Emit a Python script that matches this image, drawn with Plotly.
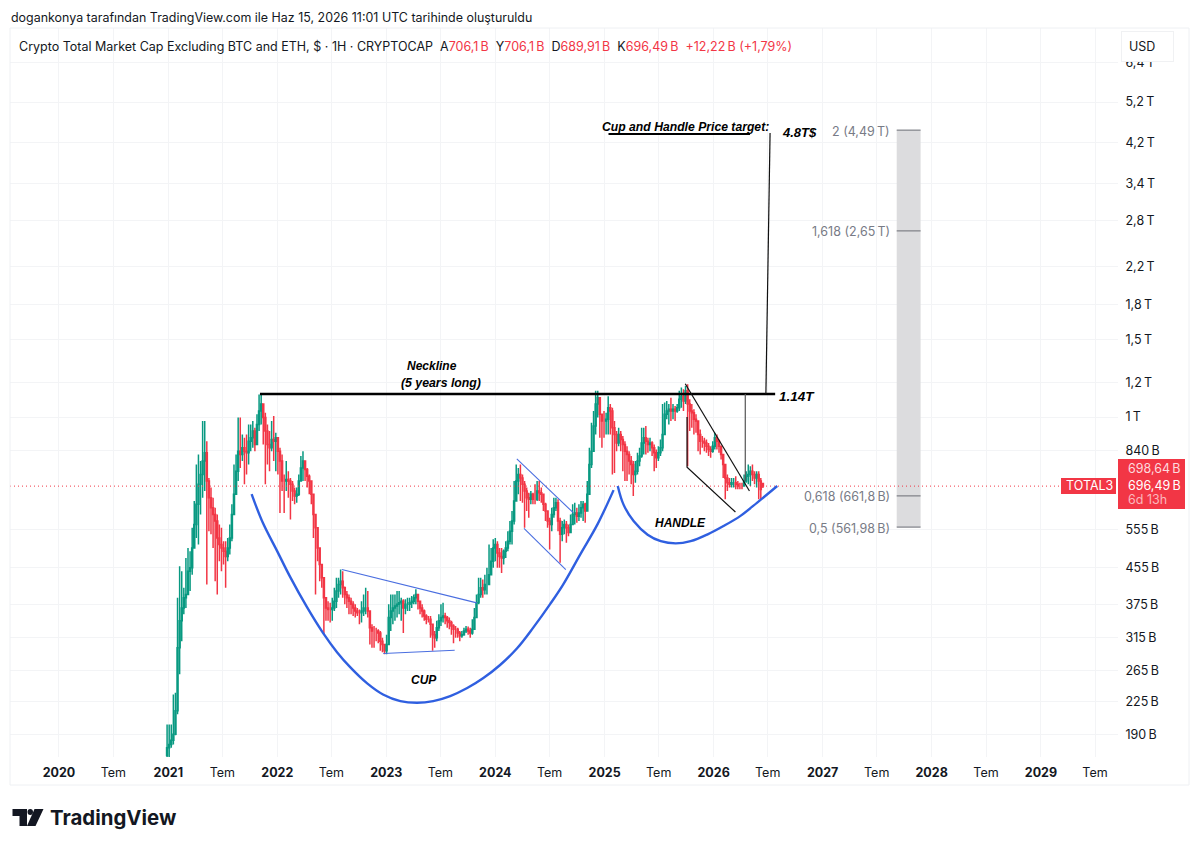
import numpy as np
import pandas as pd
import plotly.graph_objects as go

# weekly TOTAL3 candles, in billions of USD
closes = [177,180,184,190,215,299,344,368,388,395,446,454,504,570,633,703,740,794,829,715,
          655,622,600,580,531,513,504,495,482,504,531,600,667,753,836,822,851,836,829,881,
          897,929,866,962,1032,1070,997,929,866,851,889,881,897,836,794,715,715,721,715,703,
          679,661,667,715,766,794,760,733,715,667,600,560,504,462,431,388,368,365,365,368,
          381,402,416,423,409,395,388,381,375,368,362,359,359,362,368,368,362,332,326,326,
          326,323,309,304,294,304,350,362,368,372,375,378,381,368,375,375,378,381,388,395,
          381,368,362,353,347,347,338,320,315,332,344,350,353,350,344,341,335,329,329,323,
          318,320,326,329,326,323,329,350,378,395,409,405,416,416,438,470,504,513,491,482,
          478,495,504,522,550,580,644,715,740,727,703,679,655,650,667,650,650,679,673,667,
          633,611,580,570,600,622,638,580,541,560,570,560,546,570,600,605,595,605,622,633,
          611,667,780,836,954,1070,1106,1014,980,980,989,1050,1032,945,913,873,913,889,866,836,
          822,794,780,740,753,794,815,873,897,881,866,873,851,829,808,829,851,913,1014,1032,
          1041,1032,1041,1032,1050,1097,1115,1088,1148,1070,1032,1023,989,980,913,881,881,873,858,844,
          836,858,897,881,858,822,780,727,709,703,709,709,703,697,697,697,715,733,740,753,
          740,727,740,715,684,696.49]
highs = [200,200,200,234,236,388,458,446,409,478,504,495,560,644,780,822,794,980,980,881,
         727,691,655,622,600,570,560,522,522,531,570,633,780,822,997,997,913,897,913,962,
         962,980,945,1014,1125,1125,1023,1023,962,929,980,1005,921,897,851,822,740,794,753,727,
         715,691,691,740,815,836,773,766,740,703,667,600,560,504,462,431,388,381,378,388,
         409,431,431,450,446,412,402,395,388,381,375,368,365,381,395,409,402,362,338,335,
         332,329,326,315,304,320,375,395,395,395,402,402,388,385,385,388,388,392,395,406,
         395,381,375,365,356,353,353,338,326,344,356,375,378,359,353,350,344,338,335,332,
         326,326,332,335,334,332,347,368,395,431,431,427,438,454,513,504,527,531,522,504,
         504,500,522,550,580,611,715,780,766,780,740,715,691,673,679,673,703,715,715,691,
         667,638,611,590,622,655,655,650,590,580,585,580,570,600,633,638,622,633,644,644,
         638,715,851,971,1032,1148,1148,1088,1014,1032,1023,1115,1070,1050,980,929,945,929,905,881,
         858,836,815,794,794,829,851,945,945,954,897,897,881,866,844,858,889,1070,1079,1088,
         1070,1106,1070,1060,1070,1148,1167,1157,1176,1187,1097,1070,1041,1014,980,937,905,897,889,873,
         858,881,921,913,889,858,822,780,740,727,727,727,733,715,709,709,740,753,780,773,
         780,753,753,753,727,706.1]
lows = [165,165,177,180,189,211,260,309,356,368,395,402,438,513,531,513,600,655,679,416,
        550,541,504,423,395,470,446,462,409,470,487,522,611,679,715,766,794,703,740,780,
        836,851,836,866,929,962,866,703,780,753,836,794,753,740,605,679,605,679,655,585,
        644,633,638,661,715,715,715,691,667,633,531,395,470,423,409,320,344,344,341,344,
        362,368,388,395,388,375,368,356,356,353,350,353,338,341,353,356,350,304,299,299,
        309,306,294,292,289,289,320,326,338,344,350,356,344,323,356,362,362,368,375,375,
        365,356,350,344,338,341,315,294,299,309,326,335,341,338,332,329,320,306,315,315,
        309,315,318,323,320,315,320,329,350,375,388,388,395,395,416,438,454,470,454,454,
        442,462,478,495,513,513,570,644,667,644,638,560,611,590,633,633,633,644,644,638,
        611,580,560,500,550,590,611,550,466,522,541,518,536,550,570,570,575,580,590,580,
        575,611,703,766,836,913,997,897,851,897,913,913,913,740,746,836,858,836,753,715,
        715,740,703,661,709,740,773,808,822,822,829,836,815,753,766,794,815,836,929,989,
        962,980,989,980,1023,1032,1050,1032,1070,773,929,945,913,921,836,822,851,836,829,815,
        808,829,844,844,829,801,727,650,679,691,691,691,685,685,685,685,697,709,703,697,
        715,703,691,650,650,689.91]

# hand-drawn lines on the chart: dates and values in billions
cup_dates = ["2021-10-07","2021-11-14","2022-01-01","2022-02-13","2022-04-10","2022-06-03","2022-07-20",
             "2022-09-02","2022-10-29","2022-12-21","2023-02-17","2023-04-14","2023-06-07","2023-08-03",
             "2023-09-29","2023-11-22","2024-01-17","2024-03-14","2024-05-07","2024-07-03","2024-08-15",
             "2024-10-12","2024-12-08","2025-01-31"]
cup_values = [668,574,495,433,370,323,292,270,248,234,226,224,226,232,242,255,273,298,332,376,416,488,570,682]
handle_dates = ["2025-02-14","2025-03-05","2025-04-08","2025-05-25","2025-07-08","2025-08-27","2025-10-16",
                "2025-12-12","2026-02-03","2026-04-01","2026-05-27","2026-08-02"]
handle_values = [697,633,580,540,522,516,522,541,565,596,639,697]

black_lines = [
    (["2021-11-04","2026-07-26"], [1128,1128], 2.4, "#000000"),    # neckline
    (["2025-01-14","2026-05-03"], [4400,4400], 2.2, "#000000"),
    (["2026-06-25","2026-07-09"], [1128,4425], 1.2, "#111111"),
    (["2026-04-17","2026-04-17"], [1128,715], 1.2, "#555555"),
    (["2025-09-28","2026-05-01"], [1190,679], 1.2, "#111111"),
    (["2025-10-04","2025-10-04","2026-03-15"], [1000,769,608], 1.2, "#111111"),
]
blue_lines = [
    (["2022-08-05","2023-10-31"], [450,378]),
    (["2022-12-22","2023-08-18"], [290,295]),
    (["2024-03-13","2024-09-18"], [803,606]),
    (["2024-04-06","2024-08-24"], [558,450]),
]

price_ticks = [190,225,265,315,375,455,555,840,1000,1200,1500,1800,2200,2800,3400,4200,5200,6400]
price_labels = ["190\u2009B","225\u2009B","265\u2009B","315\u2009B","375\u2009B","455\u2009B","555\u2009B","840\u2009B",
                "1\u2009T","1,2\u2009T","1,5\u2009T","1,8\u2009T","2,2\u2009T","2,8\u2009T","3,4\u2009T","4,2\u2009T","5,2\u2009T","6,4\u2009T"]
date_ticks = []
date_labels = []
for yr in range(2020, 2030):
    date_ticks += [f"{yr}-01-01", f"{yr}-07-01"]
    date_labels += [f"<b>{yr}</b>", "Tem"]

fib_levels = [4490, 2650, 661.8, 561.98]
fib_labels = ["2 (4,49\u2009T)", "1,618 (2,65\u2009T)", "0,618 (661,8\u2009B)", "0,5 (561,98\u2009B)"]
fib_start, fib_end, fib_text_x = "2027-09-06", "2027-11-25", "2027-08-20"

last_close = closes[-1]
x_range = ["2019-07-21", "2029-09-16"]
RED = "#f23645"
GREEN = "#089981"
BLUE = "#2f5fe0"
THIN_BLUE = "#4a6ee0"
FONT = "Inter"

dates = pd.date_range("2020-12-28", periods=len(closes), freq="W-MON")
opens = [170] + closes[:-1]
opens[-1] = 706.1

fig = go.Figure()
fig.add_trace(go.Candlestick(x=dates, open=opens, high=highs, low=lows, close=closes,
                             increasing=dict(line=dict(color=GREEN, width=1.5), fillcolor=GREEN),
                             decreasing=dict(line=dict(color=RED, width=1.5), fillcolor=RED),
                             whiskerwidth=0, hoverinfo="skip"))

# fib box
fig.add_trace(go.Scatter(x=[fib_start, fib_end, fib_end, fib_start, fib_start],
                         y=[fib_levels[3], fib_levels[3], fib_levels[0], fib_levels[0], fib_levels[3]],
                         mode="lines", fill="toself", fillcolor="#dcdcde", line=dict(width=0)))
for lv in fib_levels:
    fig.add_trace(go.Scatter(x=[fib_start, fib_end], y=[lv, lv], mode="lines", line=dict(color="#7d7f86", width=1.2)))

fig.add_trace(go.Scatter(x=x_range, y=[last_close, last_close], mode="lines",
                         line=dict(color=RED, width=1, dash="1px 3px")))
for xs, ys, w, col in black_lines:
    fig.add_trace(go.Scatter(x=xs, y=ys, mode="lines", line=dict(color=col, width=w)))
for xs, ys in blue_lines:
    fig.add_trace(go.Scatter(x=xs, y=ys, mode="lines", line=dict(color=THIN_BLUE, width=1.1)))
for xs, ys in [(cup_dates, cup_values), (handle_dates, handle_values)]:
    fig.add_trace(go.Scatter(x=xs, y=ys, mode="lines", line=dict(color=BLUE, width=2.4, shape="spline", smoothing=1)))

PLOT_L, PLOT_R, PLOT_T, PLOT_B = 10, 1118, 28, 757


def px(x):
    return (x - PLOT_L) / (PLOT_R - PLOT_L)


def py(y):
    return (PLOT_B - y) / (PLOT_B - PLOT_T)


def note(x, y, text, size=12, color="#131722", anchor="left", **kw):
    fig.add_annotation(x=px(x), y=py(y), xref="paper", yref="paper", text=text, showarrow=False,
                       xanchor=anchor, yanchor="middle", font=dict(family=FONT, size=size, color=color), **kw)


def chart_note(date, value, text, size=11, color="#000000", anchor="center"):
    fig.add_annotation(x=date, y=np.log10(value), text=text, showarrow=False, xanchor=anchor, yanchor="middle",
                       font=dict(family="Liberation Sans", size=size, color=color))


chart_note("2023-06-04", 1306, "<b><i>Neckline</i></b>", size=12)
chart_note("2023-07-03", 1195, "<b><i>(5 years long)</i></b>", size=12.3)
chart_note("2026-10-08", 1116, "<b><i>1.14T</i></b>", size=13.5)
chart_note("2025-09-28", 4564, "<b><i>Cup and Handle Price target:</i></b>", size=12.2)
chart_note("2026-10-15", 4446, "<b><i>4.8T$</i></b>", size=13)
chart_note("2023-05-07", 252, "<b><i>CUP</i></b>", size=12)
chart_note("2025-09-11", 574, "<b><i>HANDLE</i></b>", size=12)
for lv, lab in zip(fib_levels, fib_labels):
    fig.add_annotation(x=fib_text_x, y=np.log10(lv), text=lab, showarrow=False, xanchor="right", yanchor="middle",
                       yshift=-1, font=dict(family=FONT, size=12.5, color="#787b86"))

shapes = [
    dict(type="rect", xref="paper", yref="paper", x0=px(10), x1=px(1189), y0=py(785), y1=py(28),
         line=dict(color="#eef0f3", width=1), fillcolor="rgba(0,0,0,0)"),
    dict(type="rect", xref="paper", yref="paper", x0=px(1061), x1=px(1116), y0=py(494), y1=py(478),
         line=dict(width=0), fillcolor=RED),
    dict(type="rect", xref="paper", yref="paper", x0=px(1118), x1=px(1185), y0=py(509), y1=py(459),
         line=dict(width=0), fillcolor=RED),
    dict(type="path", xref="paper", yref="paper", fillcolor="#131722", line=dict(width=0),
         path=f"M{px(12.5)} {py(809)} H{px(27)} V{py(826)} H{px(19.5)} V{py(816)} H{px(12.5)} Z"),
    dict(type="path", xref="paper", yref="paper", fillcolor="#131722", line=dict(width=0),
         path=f"M{px(34.5)} {py(809)} H{px(43.5)} L{px(35.5)} {py(826)} H{px(27)} Z"),
    dict(type="circle", xref="paper", yref="paper", fillcolor="#131722", line=dict(width=0),
         x0=px(27.5), x1=px(33), y0=py(815), y1=py(809)),
]

note(9, 18, "dogankonya tarafından TradingView.com ile Haz 15, 2026 11:01 UTC tarihinde oluşturuldu", size=12.45)
r = lambda s: f"<span style='color:{RED}'>{s}</span>"
note(17, 46, "Crypto Total Market Cap Excluding BTC and ETH, $ · 1H · CRYPTOCAP  A" + r("706,1\u2009B") + "  Y" + r("706,1\u2009B")
     + "  D" + r("689,91\u2009B") + "  K" + r("696,49\u2009B") + "  " + r("+12,22\u2009B (+1,79%)"), size=12.5)
note(1121, 46, "USD", size=12.5, bgcolor="#ffffff", bordercolor="#f0f1f3", borderwidth=1, borderpad=7,
     width=37, align="left")
note(1089, 486, "TOTAL3", color="#ffffff", anchor="center", size=12.5)
note(1126, 468, "698,64\u2009B", color="#fdd9dd", size=12.5)
note(1126, 485, "696,49\u2009B", color="#ffffff", size=12.5)
note(1126, 499, "6d 13h", color="#fbb7bd", size=12.5)
note(48, 817, "<b>TradingView</b>", size=20.4)

fig.update_layout(
    width=1200, height=849, showlegend=False, plot_bgcolor="#ffffff", paper_bgcolor="#ffffff",
    margin=dict(l=PLOT_L, r=1200 - PLOT_R, t=PLOT_T, b=849 - PLOT_B), shapes=shapes,
    font=dict(family=FONT, size=12.5, color="#131722"),
    xaxis=dict(type="date", range=x_range, rangeslider=dict(visible=False), tickmode="array", tickvals=date_ticks,
               ticktext=date_labels, tickangle=0, showgrid=True, gridcolor="#f3f4f6", gridwidth=1, zeroline=False,
               showline=False, ticks="outside", ticklen=4, tickcolor="rgba(0,0,0,0)"),
    yaxis=dict(type="log", range=[2.2270, 3.8845], side="right", tickmode="array", tickvals=price_ticks,
               ticktext=price_labels, showgrid=True, gridcolor="#f3f4f6", gridwidth=1, zeroline=False,
               showline=False, ticks="outside", ticklen=4, tickcolor="rgba(0,0,0,0)"),
)

fig.write_html("out.html", config=dict(displayModeBar=False),
               post_script="document.body.style.margin='0';document.body.style.overflow='hidden';")
